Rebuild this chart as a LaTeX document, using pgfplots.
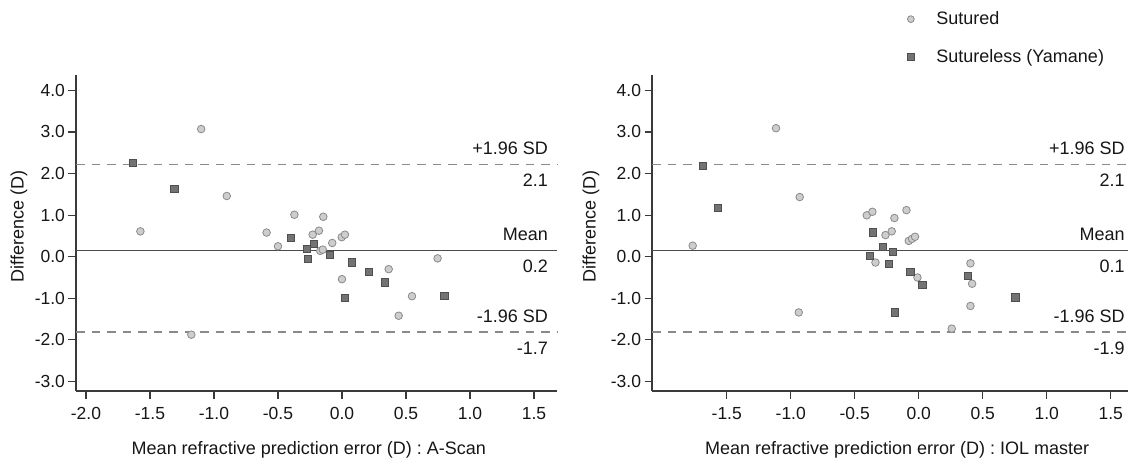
\documentclass[border=0pt]{standalone}
\usepackage{fontspec}
\setmainfont{Liberation Sans}
\usepackage{pgfplots}
\pgfplotsset{compat=1.18}

\definecolor{txt}{HTML}{161616}
\definecolor{axln}{HTML}{3A3A3A}
\definecolor{circfill}{HTML}{CDCDCD}
\definecolor{circedge}{HTML}{8A8A8A}
\definecolor{sqfill}{HTML}{737373}
\definecolor{sqedge}{HTML}{4F4F4F}
\definecolor{sdline}{HTML}{8A8A8A}
\definecolor{meanline}{HTML}{4A4A4A}

\newcommand{\tickfont}{\fontsize{17.5bp}{20bp}\selectfont}
\newcommand{\labfont}{\fontsize{18bp}{21bp}\selectfont}

\tikzset{reflab/.style={anchor=east, font=\labfont, text=txt, inner sep=0pt}}

\pgfplotsset{
  ba/.style={
    scale only axis, height=316bp,
    axis lines=left, axis line style={-, axln, line width=1.2bp},
    ymin=-3.23, ymax=4.37, ytick={-3,-2,...,4},
    tick align=outside, major tick length=7.5bp,
    tick style={axln, line width=1.1bp},
    ticklabel style={font=\tickfont, text=txt},
    xticklabel style={yshift=-5bp},
    label style={font=\labfont, text=txt},
    /pgf/number format/fixed, /pgf/number format/fixed zerofill,
    /pgf/number format/precision=1, /pgf/number format/assume math mode=true,
    clip=false,
  },
  sut/.style={only marks, mark=*, mark size=3.8bp,
    mark options={fill=circfill, draw=circedge, line width=0.8bp}},
  sul/.style={only marks, mark=square*, mark size=3.6bp,
    mark options={fill=sqfill, draw=sqedge, line width=0.8bp}},
  sd/.style={sdline, line width=1.1bp, dash pattern=on 8.5bp off 7bp},
  mn/.style={meanline, line width=1bp},
}

\begin{document}
\begin{tikzpicture}
\path[use as bounding box] (0,0) rectangle (1128bp,465bp);

% left panel: A-Scan
\begin{axis}[ba, at={(76bp,74bp)}, anchor=south west, width=481bp,
  xmin=-2.078, xmax=1.68, xtick={-2,-1.5,...,1.5},
  xlabel={Mean refractive prediction error (D) : A-Scan},
  ylabel={Difference (D)},
  xlabel style={at={(axis description cs:0.484,-0.187)}, anchor=center},
  ylabel style={at={(axis description cs:-0.1185,0.52)}, anchor=center},
]
\addplot[sd] coordinates {(-2.078,2.22) (1.68,2.22)};
\addplot[sd] coordinates {(-2.078,-1.81) (1.68,-1.81)};
\addplot[mn] coordinates {(-2.078,0.15) (1.68,0.15)};
\addplot[sut] coordinates {
(-1.10,3.07) (-1.575,0.61) (-0.90,1.46) (-1.177,-1.875) (-0.589,0.58)
(-0.50,0.25) (-0.372,1.01) (-0.229,0.53) (-0.18,0.625) (-0.146,0.96)
(-0.17,0.14) (-0.15,0.17) (-0.076,0.33) (-0.002,0.47) (0.023,0.53)
(0.0,-0.54) (0.747,-0.04) (0.365,-0.30) (0.547,-0.95) (0.443,-1.42)};
\addplot[sul] coordinates {
(-1.635,2.25) (-1.31,1.64) (-0.396,0.45) (-0.273,0.19) (-0.221,0.30)
(-0.266,-0.06) (-0.096,0.04) (0.076,-0.135) (0.213,-0.36) (0.021,-0.99)
(0.338,-0.62) (0.80,-0.945)};
\node[reflab] at (axis cs:1.61,2.22) [yshift=16bp] {+1.96 SD};
\node[reflab] at (axis cs:1.61,2.22) [yshift=-16bp] {2.1};
\node[reflab] at (axis cs:1.61,0.15) [yshift=16bp] {Mean};
\node[reflab] at (axis cs:1.61,0.15) [yshift=-16bp] {0.2};
\node[reflab] at (axis cs:1.61,-1.81) [yshift=16bp] {-1.96 SD};
\node[reflab] at (axis cs:1.61,-1.81) [yshift=-16bp] {-1.7};
\end{axis}

% right panel: IOL master
\begin{axis}[ba, at={(652bp,74bp)}, anchor=south west, width=476bp,
  xmin=-2.084, xmax=1.635, xtick={-1.5,-1,...,1.5},
  xlabel={Mean refractive prediction error (D) : IOL master},
  ylabel={Difference (D)},
  xlabel style={at={(axis description cs:0.515,-0.187)}, anchor=center},
  ylabel style={at={(axis description cs:-0.128,0.52)}, anchor=center},
  legend style={at={(axis description cs:0.53,1.213)}, anchor=north west,
    draw=none, fill=none, font=\labfont, text=txt, row sep=19bp,
    /tikz/every odd column/.append style={column sep=20bp}},
  legend cell align=left,
  legend image code/.code={\draw[#1, mark size=3.4bp] plot coordinates {(0bp,0bp)};},
]
\addplot[sd, forget plot] coordinates {(-2.084,2.22) (1.635,2.22)};
\addplot[sd, forget plot] coordinates {(-2.084,-1.81) (1.635,-1.81)};
\addplot[mn, forget plot] coordinates {(-2.084,0.15) (1.635,0.15)};
\addplot[sut] coordinates {
(-1.115,3.09) (-1.766,0.265) (-0.93,1.435) (-0.9375,-1.34) (-0.406,0.995)
(-0.362,1.08) (-0.19,0.93) (-0.26,0.52) (-0.211,0.61) (-0.338,-0.14)
(-0.096,1.12) (-0.078,0.38) (-0.052,0.43) (-0.029,0.48) (-0.01,-0.50)
(0.404,-0.16) (0.417,-0.65) (0.404,-1.185) (0.258,-1.73)};
\addlegendentry{Sutured}
\addplot[sul] coordinates {
(-1.685,2.19) (-1.57,1.17) (-0.36,0.585) (-0.279,0.24) (-0.383,0.02)
(-0.2,0.12) (-0.232,-0.175) (-0.185,-1.34) (-0.065,-0.36) (0.029,-0.68)
(0.385,-0.47) (0.755,-0.98)};
\addlegendentry{Sutureless (Yamane)}
\node[reflab] at (axis cs:1.61,2.22) [yshift=16bp] {+1.96 SD};
\node[reflab] at (axis cs:1.61,2.22) [yshift=-16bp] {2.1};
\node[reflab] at (axis cs:1.61,0.15) [yshift=16bp] {Mean};
\node[reflab] at (axis cs:1.61,0.15) [yshift=-16bp] {0.1};
\node[reflab] at (axis cs:1.61,-1.81) [yshift=16bp] {-1.96 SD};
\node[reflab] at (axis cs:1.61,-1.81) [yshift=-16bp] {-1.9};
\end{axis}
\end{tikzpicture}
\end{document}
